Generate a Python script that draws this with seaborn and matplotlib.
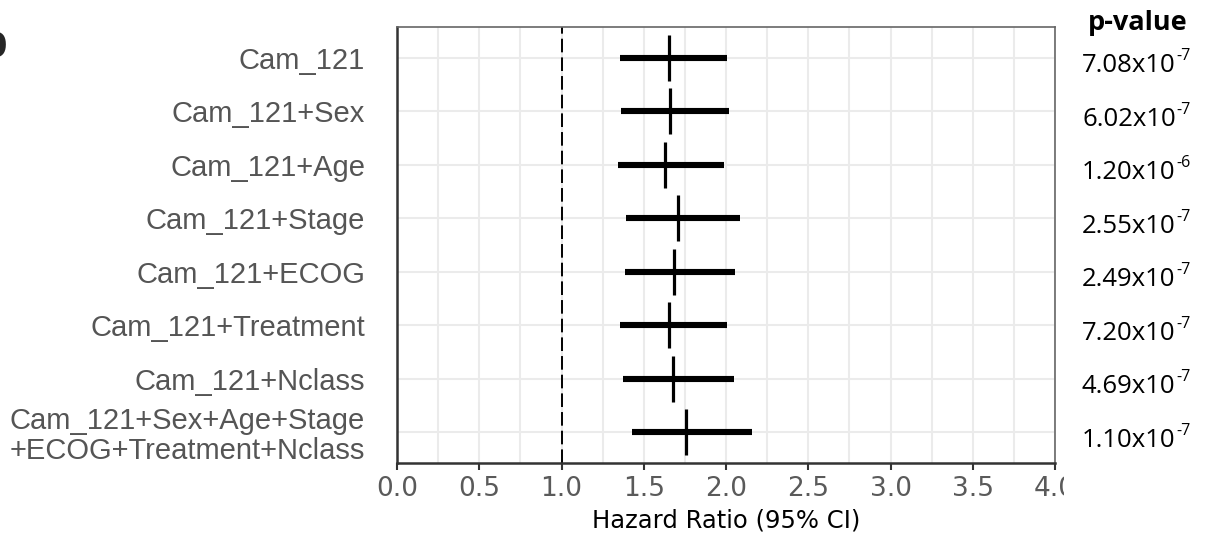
import matplotlib
matplotlib.use("Agg")
import matplotlib.pyplot as plt
import matplotlib.patches as mpatches
from matplotlib.ticker import MultipleLocator
import seaborn as sns
import pandas as pd
import numpy as np

models = ["Cam_121", "Cam_121+Sex", "Cam_121+Age", "Cam_121+Stage",
          "Cam_121+ECOG", "Cam_121+Treatment", "Cam_121+Nclass",
          "Cam_121+Sex+Age+Stage\n+ECOG+Treatment+Nclass"]
hr = [1.652, 1.658, 1.629, 1.706, 1.686, 1.652, 1.678, 1.757]
ci_low = [1.356, 1.362, 1.342, 1.390, 1.386, 1.356, 1.372, 1.430]
ci_high = [2.008, 2.020, 1.986, 2.085, 2.055, 2.006, 2.049, 2.156]
p_mant = ["7.08", "6.02", "1.20", "2.55", "2.49", "7.20", "4.69", "1.10"]
p_exp = ["-7", "-7", "-6", "-7", "-7", "-7", "-7", "-7"]
xticks = [0.0, 0.5, 1.0, 1.5, 2.0, 2.5, 3.0, 3.5, 4.0]

df = pd.DataFrame({"model": models, "hr": hr, "low": ci_low, "high": ci_high,
                   "pos": np.arange(len(models))})

sns.set_theme(style="whitegrid")
plt.rcParams["font.family"] = ["DejaVu Sans"]

fig = plt.figure(figsize=(12.1, 5.42), dpi=100)
ax = fig.add_axes([397/1210, 1 - 463/542, (1055-397)/1210, (463-27)/542])

# CI lines
ax.hlines(df["pos"], df["low"], df["high"], color="black", linewidth=4.4, zorder=3)
# point estimates
sns.scatterplot(data=df, x="hr", y="pos", marker="|", s=1100, linewidth=2.3,
                color="black", ax=ax, zorder=4, legend=False)
ax.axvline(1.0, color="black", linestyle=(0, (7, 2.6)), linewidth=1.4, zorder=2)

ax.set_xlim(0, 4)
ax.set_ylim(len(models) - 1 + 0.58, -0.58)
ax.set_xticks(xticks)
ax.set_xticklabels([f"{t:.1f}" for t in xticks])
ax.xaxis.set_minor_locator(MultipleLocator(0.25))
ax.set_yticks(df["pos"])
ax.set_yticklabels(models, fontfamily="Liberation Sans", fontsize=21,
                   color="#555555", linespacing=1.08)
ax.tick_params(axis="y", length=0, pad=23)
ax.tick_params(axis="x", which="major", length=5, width=1.5, color="#333333",
               labelsize=19, labelcolor="#5a5a5a", pad=4, direction="out", bottom=True)
ax.tick_params(axis="x", which="minor", length=0)
ax.grid(True, which="both", color="#ebebeb", linewidth=1.5)
ax.set_axisbelow(True)
for side in ["top", "right"]:
    ax.spines[side].set_color("#666666")
    ax.spines[side].set_linewidth(1.2)
for side in ["left", "bottom"]:
    ax.spines[side].set_color("#333333")
    ax.spines[side].set_linewidth(1.8)
ax.set_xlabel("Hazard Ratio (95% CI)", fontsize=17.5, color="black", labelpad=5)
ax.set_ylabel("")

# white panel covering the right side
fig.patches.append(mpatches.Rectangle((1064/1210, 0), 1, 1, transform=fig.transFigure,
                                      facecolor="white", edgecolor="none", zorder=5))

fig.text(1138/1210, 1 - 23/542, "p-value", fontfamily="Open Sans", fontweight="bold",
         fontsize=19.5, ha="center", va="center", zorder=6, color="black")
mant_texts = []
for i in range(len(models)):
    ydisp = ax.transData.transform((0, i))[1]
    yfig = ydisp / fig.bbox.height - 8/542
    t = fig.text(1082/1210, yfig, f"{p_mant[i]}x10", color="black",
                 fontfamily="Open Sans", fontsize=18.5, ha="left", va="center", zorder=6)
    mant_texts.append(t)

fig.canvas.draw()
renderer = fig.canvas.get_renderer()
for t, e in zip(mant_texts, p_exp):
    bb = t.get_window_extent(renderer)
    fig.text((bb.x1 + 0.5) / fig.bbox.width, (bb.y1 - 3) / fig.bbox.height, e,
             color="black", fontfamily="Open Sans", fontsize=11.5,
             ha="left", va="center", zorder=7)

# partially visible panel letter
fig.text(-0.0172, 1 - 57/542, "b", fontsize=34, fontweight="bold",
         fontfamily="Liberation Sans", ha="left", va="baseline")

fig.savefig("out.png", dpi=100)
